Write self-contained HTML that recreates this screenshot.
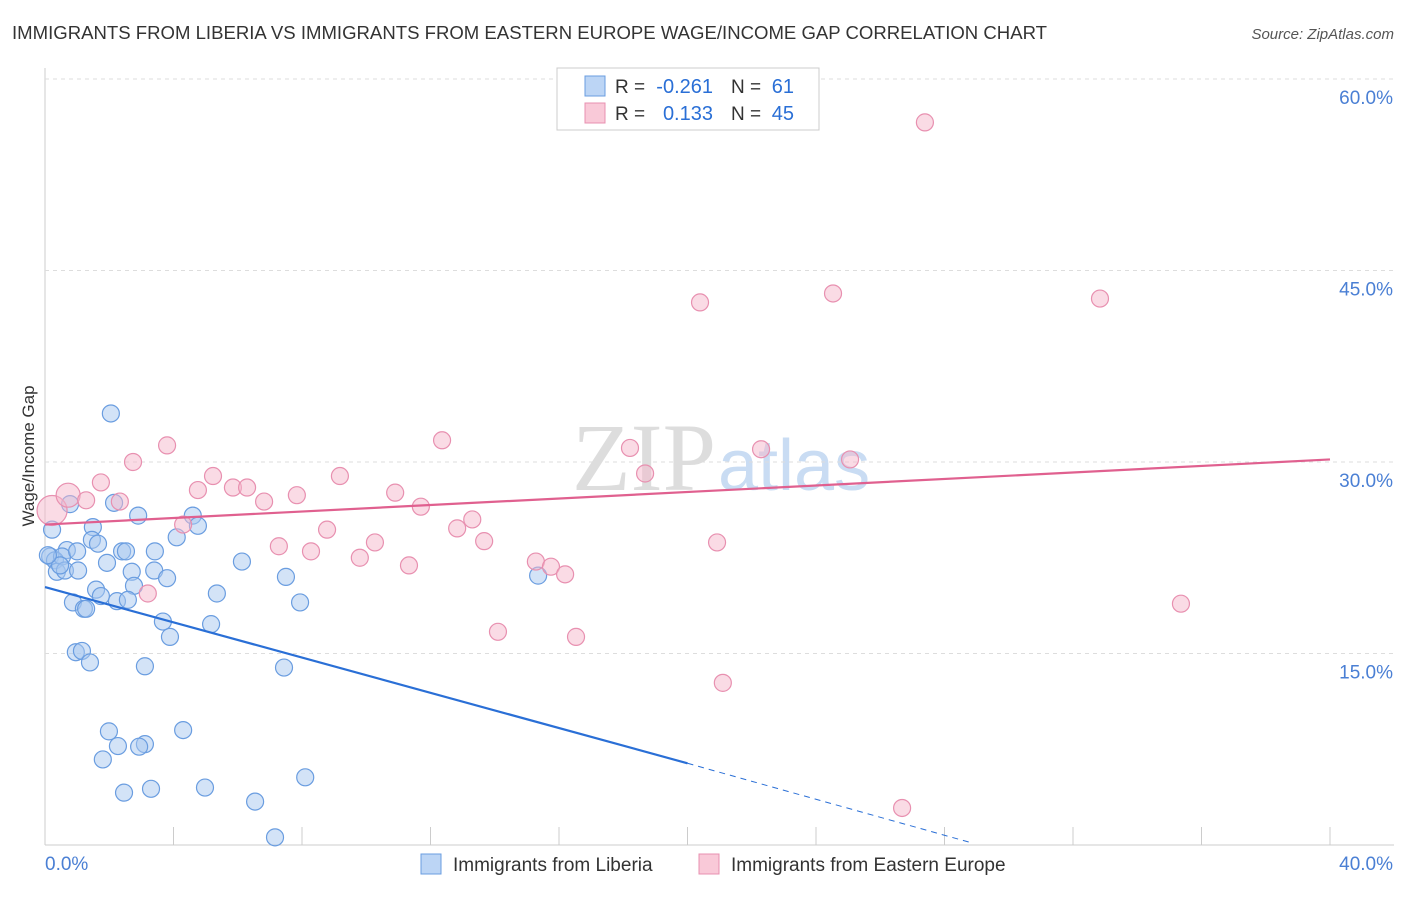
<!DOCTYPE html>
<html><head><meta charset="utf-8"><style>
body{margin:0;background:#fff;font-family:"Liberation Sans",sans-serif}
</style></head><body>
<svg id="chart" width="1406" height="892" xmlns="http://www.w3.org/2000/svg" font-family="Liberation Sans, sans-serif">
<text x="12" y="39" font-size="18" fill="#333" textLength="1035" lengthAdjust="spacingAndGlyphs">IMMIGRANTS FROM LIBERIA VS IMMIGRANTS FROM EASTERN EUROPE WAGE/INCOME GAP CORRELATION CHART</text>
<text x="1394" y="39" font-size="15" fill="#555" text-anchor="end" font-style="italic">Source: ZipAtlas.com</text>
<text x="716" y="490" font-size="96" text-anchor="end" fill="#ddd" font-family="Liberation Serif, serif">ZIP</text>
<text x="718" y="490" font-size="72" fill="#c9dcf3">atlas</text>
<g id="grid"></g>
<g id="marks"></g>
<text transform="translate(34,456) rotate(-90)" font-size="17" fill="#333" text-anchor="middle">Wage/Income Gap</text>
<g>
<rect x="557" y="68" width="262" height="62" fill="#fff" stroke="#ccc"/>
<rect x="585" y="76" width="20" height="20" fill="#bcd5f5" stroke="#6a9de0"/>
<rect x="585" y="103" width="20" height="20" fill="#f9c9d8" stroke="#e890b0"/>
<text x="615" y="93" font-size="19" fill="#333">R =</text>
<text x="713" y="93" font-size="20" fill="#2a6fd6" text-anchor="end">-0.261</text>
<text x="731" y="93" font-size="19" fill="#333">N =</text>
<text x="794" y="93" font-size="20" fill="#2a6fd6" text-anchor="end">61</text>
<text x="615" y="120" font-size="19" fill="#333">R =</text>
<text x="713" y="120" font-size="20" fill="#2a6fd6" text-anchor="end">0.133</text>
<text x="731" y="120" font-size="19" fill="#333">N =</text>
<text x="794" y="120" font-size="20" fill="#2a6fd6" text-anchor="end">45</text>
</g>
<g>
<rect x="421" y="854" width="20" height="20" fill="#bcd5f5" stroke="#6a9de0"/>
<text x="453" y="871" font-size="19" fill="#333">Immigrants from Liberia</text>
<rect x="699" y="854" width="20" height="20" fill="#f9c9d8" stroke="#e890b0"/>
<text x="731" y="871" font-size="19" fill="#333">Immigrants from Eastern Europe</text>
</g>
</svg>
<script>
const yTicks=[15,30,45,60];
const yTickLabels=["15.0%","30.0%","45.0%","60.0%"];
const xTickVals=[0,4,8,12,16,20,24,28,32,36,40];
const xLabels=["0.0%","40.0%"];
const liberiaX=[2.05,0.22,0.78,2.15,2.9,4.6,4.76,1.49,1.46,1.65,2.4,2.52,3.42,4.1,0.68,0.16,0.31,0.53,0.37,0.62,1.03,1.93,2.7,3.4,3.8,6.13,7.5,2.77,1.59,1.74,0.87,2.24,2.58,5.35,7.94,1.21,1.28,3.67,5.17,3.89,0.96,1.15,1.4,3.11,7.44,15.35,1.99,4.3,3.11,2.27,2.93,1.8,8.1,2.46,3.3,4.98,6.54,7.16,1.0,0.47,0.09];
const liberiaY=[33.8,24.7,26.7,26.8,25.8,25.8,25.0,24.9,23.9,23.6,23.0,23.0,23.0,24.1,23.1,22.6,22.3,22.6,21.4,21.5,21.5,22.1,21.4,21.5,20.9,22.2,21.0,20.3,20.0,19.5,19.0,19.1,19.2,19.7,19.0,18.5,18.5,17.5,17.3,16.3,15.1,15.2,14.3,14.0,13.9,21.1,8.9,9.0,7.9,7.75,7.7,6.7,5.3,4.1,4.4,4.5,3.4,0.6,23.0,21.9,22.7];
const eeX=[0.22,0.72,1.28,1.74,2.33,2.74,3.8,3.2,4.3,4.76,5.23,5.85,6.29,6.82,7.28,7.84,8.28,8.78,9.18,9.8,10.27,10.9,11.33,11.7,12.36,12.83,13.3,13.67,14.1,15.28,15.75,16.19,16.53,18.21,18.68,20.39,20.92,21.1,22.29,24.53,25.06,26.68,27.39,32.84,35.36];
const eeY=[26.2,27.4,27.0,28.4,26.9,30.0,31.3,19.7,25.1,27.8,28.9,28.0,28.0,26.9,23.4,27.4,23.0,24.7,28.9,22.5,23.7,27.6,21.9,26.5,31.7,24.8,25.5,23.8,16.7,22.2,21.8,21.2,16.3,31.1,29.1,42.5,23.7,12.7,31.0,43.2,30.2,2.9,56.6,42.8,18.9];
const eeSize=[15,12];
const liberiaTrend=[20.2,6.4,0.2];const liberiaTrendX=[0,20,28.8];
const eeTrend=[25.1,30.2];
const X=v=>45+v*32.125, Y=v=>845-v*12.767;
const NS="http://www.w3.org/2000/svg";
function mk(t,a,p){const e=document.createElementNS(NS,t);for(const k in a)e.setAttribute(k,a[k]);p.appendChild(e);return e;}
const g=document.getElementById('grid'),m=document.getElementById('marks');
let ax=mk('line',{x1:45,y1:68,x2:45,y2:845,stroke:'#ccc'},g);

let bx=mk('line',{x1:45,y1:845,x2:1394,y2:845,stroke:'#ccc'},g);

yTicks.forEach((v,i)=>{
 let l=mk('line',{x1:45,y1:Y(v),x2:1394,y2:Y(v),stroke:'#ddd','stroke-dasharray':'4,4'},g);
 
 let t=mk('text',{x:1393,y:Y(v)+25,'font-size':19,fill:'#4a7fd4','text-anchor':'end'},g);t.textContent=yTickLabels[i];
 
});
xTickVals.forEach(v=>{let l=mk('line',{x1:X(v),y1:827,x2:X(v),y2:845,stroke:'#ccc'},g);
 });
let t0=mk('text',{x:45,y:870,'font-size':19,fill:'#4a7fd4'},g);t0.textContent=xLabels[0];

let t1=mk('text',{x:1393,y:870,'font-size':19,fill:'#4a7fd4','text-anchor':'end'},g);t1.textContent=xLabels[1];

liberiaX.forEach((x,i)=>{let c=mk('circle',{cx:X(x),cy:Y(liberiaY[i]),r:8.5,fill:'rgba(168,200,240,0.5)',stroke:'#6a9de0','stroke-width':1.2},m);
 });
eeX.forEach((x,i)=>{let c=mk('circle',{cx:X(x),cy:Y(eeY[i]),r:eeSize[i]||8.5,fill:'rgba(245,184,204,0.5)',stroke:'#e890b0','stroke-width':1.2},m);
 });
let bl=mk('line',{x1:X(liberiaTrendX[0]),y1:Y(liberiaTrend[0]),x2:X(liberiaTrendX[1]),y2:Y(liberiaTrend[1]),stroke:'#2a6fd6','stroke-width':2.2},m);

let bd=mk('line',{x1:X(liberiaTrendX[1]),y1:Y(liberiaTrend[1]),x2:X(liberiaTrendX[2]),y2:Y(liberiaTrend[2]),stroke:'#2a6fd6','stroke-width':1,'stroke-dasharray':'6,5'},m);

let pl=mk('line',{x1:X(0),y1:Y(eeTrend[0]),x2:X(40),y2:Y(eeTrend[1]),stroke:'#e0608f','stroke-width':2.2},m);

</script>
</body></html>
